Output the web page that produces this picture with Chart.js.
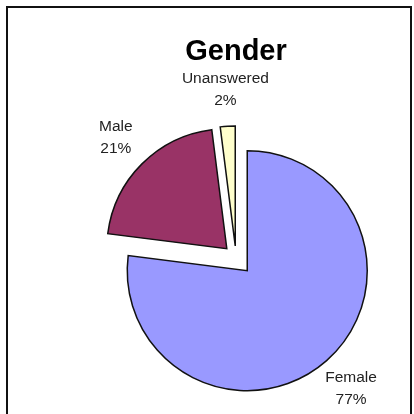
<!DOCTYPE html>
<html>
<head>
<meta charset="utf-8">
<script src="https://cdn.jsdelivr.net/npm/chart.js@4.4.1/dist/chart.umd.min.js"></script>
<style>
  html, body { margin: 0; padding: 0; background: #fff; overflow: hidden; }
  #wrap { position: relative; width: 414px; height: 414px; }
  /* marco del gráfico, estilo Excel (sin borde inferior, queda cortado) */
  #frame {
    position: absolute; left: 6px; top: 6px; width: 402px; height: 420px;
    border: 2px solid #111; border-bottom: none;
  }
  #chart { position: absolute; left: 0; top: 0; }
</style>
</head>
<body>
<div id="wrap">
  <div id="frame"></div>
  <canvas id="chart" width="414" height="414"></canvas>
</div>
<script>
// Datos
const labels = ['Female', 'Male', 'Unanswered'];
const percents = [77, 21, 2];
const colors = ['#9999FF', '#993366', '#FFFFCC'];

// Separación de cada porción (px), como el "explode" de Excel
const explode = [17, 13, 12];

// Mueve cada porción hacia fuera a lo largo de su ángulo medio
const explodePlugin = {
  id: 'explode',
  afterDatasetUpdate(chart, args) {
    args.meta.data.forEach((arc, i) => {
      const mid = (arc.startAngle + arc.endAngle) / 2;
      arc.x += Math.cos(mid) * explode[i];
      arc.y += Math.sin(mid) * explode[i];
    });
  }
};

// Etiquetas "nombre / %" fuera de cada porción
const labelPlugin = {
  id: 'sliceLabels',
  afterDatasetsDraw(chart) {
    const ctx = chart.ctx;
    const meta = chart.getDatasetMeta(0);
    ctx.save();
    ctx.font = "15.5px 'Liberation Sans', Arial, sans-serif";
    ctx.fillStyle = '#222';
    ctx.textAlign = 'center';
    ctx.textBaseline = 'middle';
    meta.data.forEach((arc, i) => {
      const mid = (arc.startAngle + arc.endAngle) / 2;
      const d = arc.outerRadius + 37;
      const x = arc.x + Math.cos(mid) * d;
      const y = arc.y + Math.sin(mid) * d;
      ctx.fillText(labels[i], x, y - 11);
      ctx.fillText(percents[i] + '%', x, y + 11);
    });
    ctx.restore();
  }
};

new Chart(document.getElementById('chart'), {
  type: 'pie',
  data: {
    labels: labels,
    datasets: [{
      data: percents,
      backgroundColor: colors,
      borderColor: '#111',
      borderWidth: 1.5,
      borderJoinStyle: 'miter'
    }]
  },
  options: {
    responsive: false,
    animation: false,
    radius: 120,
    layout: { padding: { left: 58, right: 0, top: 0, bottom: 0 } },
    plugins: {
      legend: { display: false },
      tooltip: { enabled: false },
      title: {
        display: true,
        text: 'Gender',
        color: '#000',
        font: { family: "'Liberation Sans', Arial, sans-serif", size: 29, weight: 'bold' },
        padding: { top: 35, bottom: 32 }
      }
    }
  },
  plugins: [explodePlugin, labelPlugin]
});
</script>
</body>
</html>
